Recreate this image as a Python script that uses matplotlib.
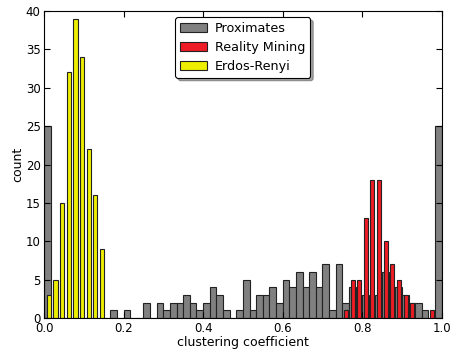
import numpy as np
import matplotlib
matplotlib.use("Agg")
import matplotlib.pyplot as plt

# ----------------------------
# Data (counts per bin, 60 bins over [0, 1])
# ----------------------------
N_BINS = 60

prox_counts = [25, 0, 0, 0, 0, 0, 0, 0, 0, 0,
               1, 0, 1, 0, 0, 2, 0, 2, 1, 2,
               2, 3, 2, 1, 2, 4, 3, 1, 0, 1,
               5, 1, 3, 3, 4, 2, 5, 4, 6, 4,
               6, 4, 7, 1, 7, 2, 4, 2, 3, 2,
               3, 6, 4, 4, 3, 2, 2, 1, 0, 25]

# Reality Mining: first bin index and counts
rm_first_bin = 45
rm_counts = [1, 5, 5, 13, 18, 18, 10, 7, 5, 3, 2, 0, 0, 1]

# Erdos-Renyi: first bin index and counts
er_first_bin = 0
er_counts = [3, 5, 15, 32, 39, 34, 22, 16, 9]

labels = ["Proximates", "Reality Mining", "Erdos-Renyi"]

# ----------------------------
# Plotting
# ----------------------------
bw = 1.0 / N_BINS
edges = np.arange(N_BINS) * bw

fig = plt.figure(figsize=(4.54, 3.5), dpi=100)
ax = fig.add_axes([0.097, 0.091, 0.876, 0.878])

ax.bar(edges, prox_counts, width=bw, align="edge", color="#808080",
       edgecolor="#222222", linewidth=0.8, label=labels[0])

rm_x = (np.arange(len(rm_counts)) + rm_first_bin + 0.55) * bw
ax.bar(rm_x, rm_counts, width=0.6 * bw, color="#ee1c24",
       edgecolor="#222222", linewidth=0.8, label=labels[1])

er_x = (np.arange(len(er_counts)) + er_first_bin + 0.74) * bw
ax.bar(er_x, er_counts, width=0.65 * bw, color="#eeee00",
       edgecolor="#222222", linewidth=0.8, label=labels[2])

ax.set_xlim(0, 1)
ax.set_ylim(0, 40)
ax.set_xticks(np.arange(0, 1.01, 0.2))
ax.set_yticks(np.arange(0, 41, 5))
ax.tick_params(direction="in", top=True, right=True, labelsize=8.5, length=4, pad=2.5)
ax.set_xlabel("clustering coefficient", fontsize=9, labelpad=1)
ax.set_ylabel("count", fontsize=9, labelpad=1)

leg = ax.legend(loc="upper center", bbox_to_anchor=(0.5, 1.0), fontsize=9.2,
                shadow=True, fancybox=True, framealpha=1, edgecolor="black",
                handlelength=2.1, handletextpad=0.6, borderpad=0.4,
                labelspacing=0.45)
leg.get_frame().set_linewidth(0.8)

fig.savefig("out.png", dpi=100)
